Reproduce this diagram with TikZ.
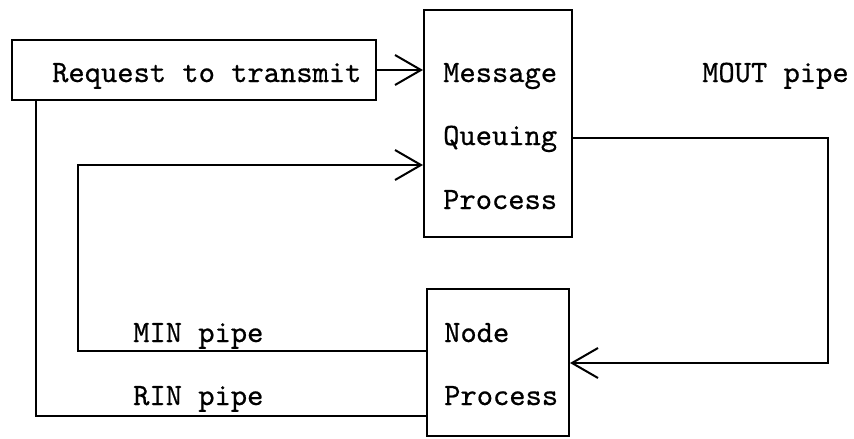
\documentclass[tikz,border=0pt]{standalone}
\usepackage{fontspec}
\setmonofont{lmmono10-regular.otf}[FakeBold=0.6]
\usetikzlibrary{arrows.meta,calc}
\begin{document}
\begin{tikzpicture}[x=1pt,y=-1pt,
  every node/.style={font=\ttfamily\fontsize{31}{36}\selectfont},
  box/.style={draw,line width=2pt,inner sep=0pt,rectangle},
  label/.style={inner sep=0pt,anchor=base west},
  wire/.style={line width=1.8pt},
  arr/.style={wire,-{Straight Barb[length=26pt,width=30pt,line width=2pt]}}]
\useasboundingbox (0,0) rectangle (854,439);
% process boxes
\node[box,minimum width=364pt,minimum height=60pt] (req) at (194,70) {};
\node[box,minimum width=148pt,minimum height=227pt] (mqp) at (498,123.5) {};
\node[box,minimum width=142pt,minimum height=147pt] (np) at (498,362) {};
% box captions
\node[label] (reqt) at (52,82) {Request to transmit};
\node[label] (mqp1) at (443,82) {Message};
\node[label] (mqp2) at (443,145) {Queuing};
\node[label] (mqp3) at (443,209) {Process};
\node[label] (np1) at (444,342) {Node};
\node[label] (np2) at (444,405) {Process};
% pipe names
\node[label] (mout) at (702,82) {MOUT pipe};
\node[label] (min) at (133,342) {MIN pipe};
\node[label] (rin) at (133,405) {RIN pipe};
% connectors
\coordinate (c1) at (828,138);
\coordinate (c2) at (78,351);
\coordinate (c3) at (36,416);
\draw[arr] (req.east) -- (req.east -| mqp.west);
\draw[arr] (mqp.east |- c1) -- (c1) |- ($(np.east)+(0,1)$);
\draw[arr] (np.west |- c2) -- (c2) |- (mqp.west |- 0,165);
\draw[wire] (np.west |- c3) -- (c3) -- (c3 |- req.south);
\end{tikzpicture}
\end{document}
